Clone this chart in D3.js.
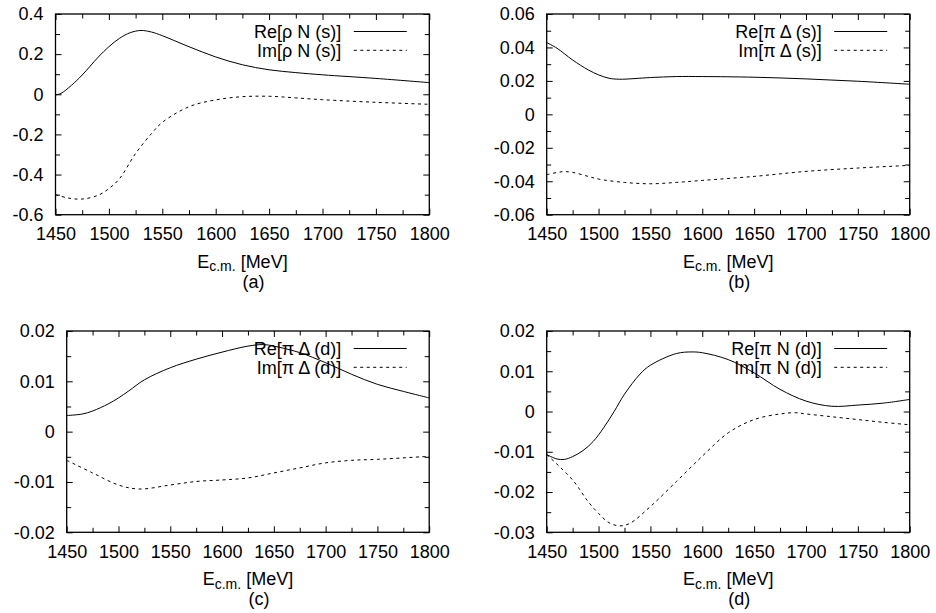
<!DOCTYPE html>
<html>
<head>
<meta charset="utf-8">
<script src="https://cdn.jsdelivr.net/npm/d3@7"></script>
<style>
  html, body { margin: 0; padding: 0; background: #fff; }
  svg { display: block; }
  text { font-family: "Liberation Sans", Arial, Helvetica, sans-serif; fill: #000; }
</style>
</head>
<body>
<svg id="chart" width="936" height="613"></svg>
<script>
// Partial-wave amplitudes vs. centre-of-mass energy [MeV], pairs of [E, value]
const rhoN_s_re = [[1450,-0.003],[1455,0.004],[1465,0.045],[1475,0.096],[1490,0.185],[1500,0.237],[1510,0.279],[1520,0.307],[1530,0.318],[1540,0.31],[1550,0.292],[1575,0.237],[1600,0.186],[1625,0.147],[1650,0.122],[1675,0.108],[1700,0.097],[1750,0.079],[1800,0.058]];
const rhoN_s_im = [[1450,-0.500],[1462,-0.517],[1475,-0.522],[1490,-0.503],[1500,-0.470],[1510,-0.420],[1525,-0.295],[1540,-0.195],[1550,-0.140],[1575,-0.062],[1600,-0.028],[1625,-0.012],[1650,-0.010],[1675,-0.018],[1700,-0.027],[1750,-0.040],[1800,-0.050]];

const piDelta_s_re = [[1450,0.0429],[1460,0.0395],[1475,0.0325],[1490,0.0266],[1500,0.0236],[1510,0.0216],[1520,0.0210],[1550,0.0220],[1575,0.0226],[1600,0.0226],[1650,0.0222],[1700,0.0212],[1750,0.0198],[1800,0.0180]];
const piDelta_s_im = [[1450,-0.0361],[1465,-0.0343],[1475,-0.0347],[1490,-0.0371],[1500,-0.0387],[1525,-0.0407],[1550,-0.0415],[1575,-0.0407],[1600,-0.0395],[1650,-0.0371],[1700,-0.0341],[1750,-0.0321],[1800,-0.0305]];

const piDelta_d_re = [[1450,0.0032],[1465,0.0035],[1475,0.0041],[1490,0.0055],[1500,0.0067],[1510,0.0081],[1525,0.0103],[1550,0.0127],[1575,0.0144],[1600,0.0158],[1625,0.0170],[1640,0.0173],[1650,0.0170],[1675,0.0157],[1700,0.0137],[1725,0.0114],[1750,0.0094],[1775,0.0080],[1800,0.0067]];
const piDelta_d_im = [[1450,-0.0057],[1475,-0.0082],[1500,-0.0106],[1520,-0.0114],[1550,-0.0106],[1575,-0.0099],[1600,-0.0096],[1625,-0.0092],[1650,-0.0082],[1675,-0.0072],[1700,-0.0062],[1725,-0.0057],[1750,-0.0055],[1800,-0.0049]];

const piN_d_re = [[1450,-0.0107],[1460,-0.0118],[1467,-0.0119],[1475,-0.0112],[1485,-0.0097],[1495,-0.0074],[1505,-0.0040],[1515,0.0000],[1525,0.0043],[1540,0.0093],[1550,0.0115],[1575,0.0144],[1590,0.0148],[1600,0.0146],[1625,0.0129],[1650,0.0096],[1675,0.0055],[1700,0.0026],[1725,0.0013],[1750,0.0016],[1775,0.0021],[1800,0.0030]];
const piN_d_im = [[1450,-0.0107],[1475,-0.0170],[1490,-0.0224],[1500,-0.0253],[1510,-0.0276],[1520,-0.0284],[1530,-0.0278],[1550,-0.0236],[1575,-0.0174],[1600,-0.0111],[1625,-0.0053],[1650,-0.0020],[1675,-0.0006],[1690,-0.0003],[1700,-0.0006],[1725,-0.0013],[1750,-0.0020],[1775,-0.0027],[1800,-0.0033]];

// Axis ticks and labels
const xTicks = [1450,1500,1550,1600,1650,1700,1750,1800];
const yTicksA = [-0.6,-0.4,-0.2,0,0.2,0.4];
const yTicksB = [-0.06,-0.04,-0.02,0,0.02,0.04,0.06];
const yTicksC = [-0.02,-0.01,0,0.01,0.02];
const yTicksD = [-0.03,-0.02,-0.01,0,0.01,0.02];
const legendA = ["Re[ρ N (s)]", "Im[ρ N (s)]"];
const legendB = ["Re[π Δ (s)]", "Im[π Δ (s)]"];
const legendC = ["Re[π Δ (d)]", "Im[π Δ (d)]"];
const legendD = ["Re[π N (d)]", "Im[π N (d)]"];
const panelTags = ["(a)", "(b)", "(c)", "(d)"];

const panels = [
  { box: [55.5, 14, 429.3, 214.7], y: yTicksA, minorY: 0.1,   re: rhoN_s_re,    im: rhoN_s_im,    legend: legendA, tag: panelTags[0] },
  { box: [546.7, 14, 909.7, 214.7], y: yTicksB, minorY: 0.01,  re: piDelta_s_re, im: piDelta_s_im, legend: legendB, tag: panelTags[1] },
  { box: [66.7, 331, 429.2, 532.3], y: yTicksC, minorY: 0.005, re: piDelta_d_re, im: piDelta_d_im, legend: legendC, tag: panelTags[2] },
  { box: [546.7, 331, 909.7, 532.3], y: yTicksD, minorY: 0.005, re: piN_d_re,     im: piN_d_im,     legend: legendD, tag: panelTags[3] }
];

const svg = d3.select("#chart");
svg.append("rect").attr("width", 936).attr("height", 613).attr("fill", "#fff");

const fmt = d => {
  if (Math.abs(d) < 1e-12) return "0";
  const s = String(+d.toFixed(3));
  return s.replace("\u2212", "-");
};

panels.forEach(p => {
  const [x0, y0, x1, y1] = p.box;
  const x = d3.scaleLinear().domain([1450, 1800]).range([x0, x1]);
  const yDom = d3.extent(p.y);
  const y = d3.scaleLinear().domain(yDom).range([y1, y0]);
  const g = svg.append("g");

  const minorX = d3.range(1450, 1800.1, 25).filter(v => !xTicks.includes(v));
  const nMinor = Math.round((yDom[1] - yDom[0]) / p.minorY);
  const minorYs = d3.range(nMinor + 1).map(i => yDom[0] + i * p.minorY)
    .filter(v => !p.y.some(t => Math.abs(t - v) < 1e-9));

  const styleAxis = sel => {
    sel.select(".domain").remove();
    sel.selectAll(".tick line").attr("stroke", "#000").attr("stroke-width", 1);
    sel.selectAll("text").attr("font-size", 18).attr("fill", "#000")
      .attr("font-family", "Liberation Sans, Arial, Helvetica, sans-serif");
  };

  // major ticks, all pointing inward
  g.append("g").attr("transform", `translate(0,${y1})`)
    .call(d3.axisBottom(x).tickValues(xTicks).tickSize(-6).tickPadding(12.5).tickFormat(d => String(d)))
    .call(styleAxis);
  g.append("g").attr("transform", `translate(0,${y0})`)
    .call(d3.axisTop(x).tickValues(xTicks).tickSize(-6).tickFormat(""))
    .call(styleAxis);
  g.append("g").attr("transform", `translate(${x0},0)`)
    .call(d3.axisLeft(y).tickValues(p.y).tickSize(-6).tickPadding(12).tickFormat(fmt))
    .call(styleAxis);
  g.append("g").attr("transform", `translate(${x1},0)`)
    .call(d3.axisRight(y).tickValues(p.y).tickSize(-6).tickFormat(""))
    .call(styleAxis);

  // minor ticks
  g.append("g").attr("transform", `translate(0,${y1})`)
    .call(d3.axisBottom(x).tickValues(minorX).tickSize(-4.5).tickFormat("")).call(styleAxis);
  g.append("g").attr("transform", `translate(0,${y0})`)
    .call(d3.axisTop(x).tickValues(minorX).tickSize(-4.5).tickFormat("")).call(styleAxis);
  g.append("g").attr("transform", `translate(${x0},0)`)
    .call(d3.axisLeft(y).tickValues(minorYs).tickSize(-4.5).tickFormat("")).call(styleAxis);
  g.append("g").attr("transform", `translate(${x1},0)`)
    .call(d3.axisRight(y).tickValues(minorYs).tickSize(-4.5).tickFormat("")).call(styleAxis);

  // frame
  g.append("rect").attr("x", x0).attr("y", y0).attr("width", x1 - x0).attr("height", y1 - y0)
    .attr("fill", "none").attr("stroke", "#000").attr("stroke-width", 1.3);

  // curves
  const line = d3.line().x(d => x(d[0])).y(d => y(d[1])).curve(d3.curveCatmullRom.alpha(0.5));
  g.append("path").datum(p.re).attr("d", line)
    .attr("fill", "none").attr("stroke", "#000").attr("stroke-width", 1);
  g.append("path").datum(p.im).attr("d", line)
    .attr("fill", "none").attr("stroke", "#000").attr("stroke-width", 1).attr("stroke-dasharray", "3,3.5");

  // legend
  const lx1 = x1 - 22.5, lx0 = lx1 - 53;
  p.legend.forEach((label, i) => {
    const ly = y0 + 17.5 + i * 18.8;
    g.append("text").attr("x", lx0 - 12.5).attr("y", ly).attr("dy", "0.35em")
      .attr("text-anchor", "end").attr("font-size", 18).text(label);
    const seg = g.append("line").attr("x1", lx0).attr("x2", lx1).attr("y1", ly).attr("y2", ly)
      .attr("stroke", "#000").attr("stroke-width", 1);
    if (i === 1) seg.attr("stroke-dasharray", "3,3.5");
  });

  // axis title with subscript and panel tag
  const cx = (x0 + x1) / 2;
  const t = g.append("text").attr("x", cx).attr("y", y1 + 53).attr("text-anchor", "middle").attr("font-size", 18);
  t.append("tspan").text("E");
  t.append("tspan").attr("font-size", 14).attr("dy", 3.5).text("c.m.");
  t.append("tspan").attr("dy", -3.5).text(" [MeV]");
  g.append("text").attr("x", cx + 11).attr("y", y1 + 73).attr("text-anchor", "middle")
    .attr("font-size", 18).text(p.tag);
});
</script>
</body>
</html>
